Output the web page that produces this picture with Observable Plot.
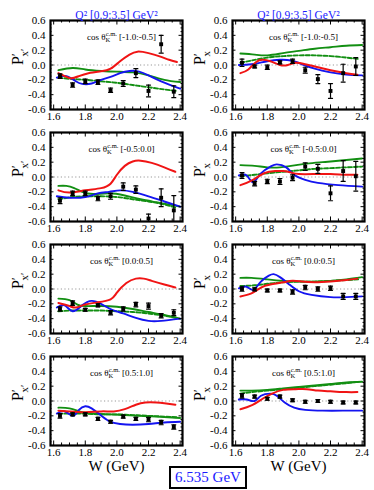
<!DOCTYPE html>
<html><head><meta charset="utf-8">
<script src="https://cdn.jsdelivr.net/npm/d3@7"></script>
<script src="https://cdn.jsdelivr.net/npm/@observablehq/plot@0.6"></script>
<style>
body{margin:0;background:#fff;}
#wrap{position:relative;width:374px;height:490px;}
#box{position:absolute;left:169px;top:466px;width:74px;height:19px;border:2px solid #000;font:15px "Liberation Serif",serif;color:#1a1aff;text-align:center;line-height:19px;background:#fff;}
</style></head><body>
<div id="wrap"><div id="box"></div></div>
<script>
const W = [1.64,1.72,1.80,1.88,1.96,2.04,2.12,2.20,2.28,2.36];
const cosBins = ["[-1.0:-0.5]","[-0.5:0.0]","[0.0:0.5]","[0.5:1.0]"];
const yLabels = ["P′x′","P′x"];
const qTitle = "Q² [0.9:3.5] GeV²";
const xLabel = "W (GeV)";
const beamLabel = "6.535 GeV";
const xTicks = [1.6,1.8,2.0,2.2,2.4];
const yTicks = [-0.6,-0.4,-0.2,0,0.2,0.4,0.6];

const pLeft = [
  [-0.15,-0.27,-0.22,-0.23,-0.34,-0.25,-0.11,-0.35,0.28,-0.36],
  [-0.32,-0.22,-0.22,-0.29,-0.26,-0.13,-0.17,-0.56,-0.28,-0.45],
  [-0.27,-0.19,-0.28,-0.22,-0.32,-0.27,-0.21,-0.23,-0.36,-0.32],
  [-0.20,-0.18,-0.18,-0.24,-0.28,-0.21,-0.24,-0.25,-0.29,-0.35]];
const eLeft = [
  [0.03,0.03,0.03,0.03,0.03,0.04,0.06,0.08,0.12,0.08],
  [0.04,0.03,0.03,0.03,0.04,0.05,0.05,0.06,0.12,0.20],
  [0.03,0.03,0.02,0.02,0.03,0.03,0.03,0.04,0.03,0.04],
  [0.03,0.02,0.02,0.02,0.02,0.02,0.02,0.03,0.03,0.03]];
const pRight = [
  [0.03,-0.02,-0.03,0.035,0.05,-0.07,-0.19,-0.35,-0.11,-0.02],
  [0.02,-0.09,-0.06,-0.06,-0.01,0.14,0.11,-0.22,0.08,0.01],
  [0.0,-0.005,-0.02,-0.02,-0.04,0.02,0.0,0.01,-0.10,-0.10],
  [0.07,0.06,0.03,0.06,0.01,-0.01,0.0,-0.01,-0.02,-0.02]];
const eRight = [
  [0.05,0.02,0.03,0.02,0.03,0.04,0.06,0.10,0.12,0.12],
  [0.04,0.03,0.03,0.04,0.04,0.05,0.06,0.10,0.14,0.20],
  [0.03,0.02,0.02,0.02,0.03,0.03,0.03,0.03,0.04,0.04],
  [0.03,0.02,0.02,0.02,0.02,0.02,0.02,0.02,0.02,0.02]];

const redLeft = [
  [[1.63,-0.11],[1.67,-0.15],[1.71,-0.18],[1.76,-0.15],[1.82,-0.11],[1.9,-0.085],[1.96,-0.05],[2.02,0.05],[2.08,0.14],[2.13,0.18],[2.2,0.16],[2.28,0.11],[2.33,0.07],[2.38,0.04]],
  [[1.63,-0.18],[1.7,-0.21],[1.8,-0.18],[1.9,-0.15],[1.96,-0.09],[2.0,0.03],[2.05,0.15],[2.1,0.21],[2.15,0.22],[2.22,0.19],[2.3,0.13],[2.37,0.07]],
  [[1.63,-0.19],[1.7,-0.23],[1.74,-0.25],[1.8,-0.21],[1.88,-0.18],[1.96,-0.14],[2.0,-0.05],[2.06,0.08],[2.12,0.14],[2.17,0.14],[2.22,0.11],[2.3,0.06],[2.37,0.02]],
  [[1.63,-0.13],[1.7,-0.14],[1.8,-0.15],[1.9,-0.14],[1.98,-0.14],[2.05,-0.11],[2.12,-0.05],[2.18,-0.02],[2.25,-0.02],[2.3,-0.03],[2.37,-0.05]]];
const greenLeft = [
  [[1.63,-0.07],[1.72,-0.04],[1.8,-0.06],[1.9,-0.08],[2.0,-0.09],[2.1,-0.1],[2.2,-0.14],[2.3,-0.2],[2.4,-0.23]],
  [[1.63,-0.12],[1.68,-0.12],[1.73,-0.15],[1.78,-0.2],[1.85,-0.23],[1.95,-0.22],[2.05,-0.25],[2.15,-0.3],[2.25,-0.34],[2.35,-0.38],[2.4,-0.4]],
  [[1.63,-0.13],[1.7,-0.15],[1.75,-0.21],[1.8,-0.23],[1.9,-0.23],[2.0,-0.24],[2.1,-0.27],[2.2,-0.31],[2.3,-0.35],[2.4,-0.4]],
  [[1.63,-0.09],[1.7,-0.1],[1.78,-0.15],[1.85,-0.17],[1.95,-0.18],[2.05,-0.19],[2.15,-0.2],[2.25,-0.21],[2.4,-0.23]]];
const dashLeft = [
  [[1.63,-0.17],[1.72,-0.19],[1.8,-0.2],[1.9,-0.22],[2.0,-0.24],[2.1,-0.27],[2.2,-0.3],[2.3,-0.33],[2.38,-0.35]],
  [[1.63,-0.3],[1.72,-0.27],[1.8,-0.26],[1.9,-0.26],[2.0,-0.27],[2.1,-0.3],[2.2,-0.33],[2.3,-0.37],[2.38,-0.42]],
  [[1.63,-0.3],[1.72,-0.29],[1.8,-0.29],[1.9,-0.29],[2.0,-0.3],[2.1,-0.31],[2.2,-0.33],[2.3,-0.36],[2.38,-0.39]],
  [[1.63,-0.17],[1.72,-0.17],[1.8,-0.17],[1.9,-0.18],[2.0,-0.18],[2.1,-0.19],[2.2,-0.2],[2.3,-0.21],[2.38,-0.22]]];
const blueLeft = [
  [[1.62,-0.17],[1.68,-0.15],[1.74,-0.22],[1.78,-0.255],[1.84,-0.25],[1.9,-0.2],[1.96,-0.16],[2.02,-0.11],[2.08,-0.08],[2.14,-0.09],[2.2,-0.14],[2.28,-0.22],[2.4,-0.32]],
  [[1.62,-0.26],[1.7,-0.28],[1.8,-0.27],[1.88,-0.22],[1.95,-0.2],[2.02,-0.18],[2.1,-0.2],[2.2,-0.26],[2.3,-0.33],[2.4,-0.4]],
  [[1.62,-0.25],[1.67,-0.22],[1.72,-0.3],[1.78,-0.22],[1.84,-0.16],[1.9,-0.2],[1.96,-0.27],[2.04,-0.33],[2.12,-0.39],[2.2,-0.43],[2.28,-0.43],[2.4,-0.4]],
  [[1.62,-0.17],[1.67,-0.14],[1.72,-0.2],[1.76,-0.12],[1.8,-0.07],[1.84,-0.1],[1.89,-0.18],[1.95,-0.27],[2.02,-0.31],[2.1,-0.32],[2.2,-0.31],[2.3,-0.29],[2.4,-0.28]]];

const redRight = [
  [[1.63,-0.11],[1.68,-0.06],[1.73,0.04],[1.77,0.07],[1.82,0.05],[1.88,0.0],[1.93,0.0],[1.98,0.03],[2.04,0.01],[2.12,-0.03],[2.2,-0.07],[2.3,-0.11],[2.37,-0.13]],
  [[1.63,-0.11],[1.7,-0.05],[1.78,0.05],[1.85,0.08],[1.9,0.08],[1.95,0.06],[2.0,0.04],[2.1,0.04],[2.2,0.04],[2.3,0.03],[2.37,0.03]],
  [[1.63,-0.1],[1.7,-0.06],[1.76,0.02],[1.82,0.06],[1.9,0.09],[1.96,0.11],[2.02,0.1],[2.1,0.09],[2.2,0.1],[2.3,0.12],[2.37,0.14]],
  [[1.63,-0.11],[1.7,-0.06],[1.77,0.03],[1.83,0.1],[1.9,0.15],[1.98,0.16],[2.05,0.16],[2.12,0.14],[2.2,0.13],[2.3,0.12],[2.37,0.12]]];
const greenRight = [
  [[1.63,0.155],[1.72,0.14],[1.8,0.13],[1.9,0.16],[2.0,0.19],[2.1,0.22],[2.2,0.24],[2.3,0.26],[2.4,0.27]],
  [[1.63,0.16],[1.72,0.15],[1.8,0.13],[1.88,0.13],[1.95,0.15],[2.05,0.18],[2.15,0.2],[2.25,0.22],[2.4,0.25]],
  [[1.63,0.15],[1.7,0.15],[1.8,0.13],[1.9,0.11],[2.0,0.1],[2.1,0.1],[2.2,0.11],[2.3,0.13],[2.4,0.16]],
  [[1.63,0.14],[1.7,0.14],[1.8,0.15],[1.9,0.17],[2.0,0.19],[2.1,0.21],[2.2,0.23],[2.3,0.25],[2.4,0.26]]];
const dashRight = [
  [[1.63,0.03],[1.7,0.06],[1.8,0.1],[1.9,0.12],[2.0,0.13],[2.1,0.13],[2.2,0.12],[2.3,0.1],[2.38,0.08]],
  [[1.63,0.01],[1.72,0.03],[1.8,0.05],[1.9,0.07],[2.0,0.09],[2.1,0.11],[2.2,0.12],[2.3,0.13],[2.4,0.14]],
  [[1.63,0.04],[1.72,0.05],[1.8,0.07],[1.9,0.09],[2.0,0.1],[2.1,0.1],[2.2,0.11],[2.3,0.12],[2.38,0.13]],
  [[1.63,0.1],[1.7,0.12],[1.8,0.14],[1.9,0.16],[2.0,0.18],[2.1,0.2],[2.2,0.22],[2.3,0.24],[2.38,0.26]]];
const blueRight = [
  [[1.62,0.0],[1.7,0.01],[1.8,0.05],[1.88,0.07],[1.95,0.06],[2.02,0.01],[2.1,-0.05],[2.2,-0.1],[2.3,-0.13],[2.4,-0.14]],
  [[1.62,0.02],[1.67,0.02],[1.71,-0.07],[1.76,0.05],[1.82,0.14],[1.86,0.17],[1.92,0.13],[1.97,0.03],[2.04,-0.04],[2.12,-0.08],[2.25,-0.11],[2.4,-0.13]],
  [[1.62,0.01],[1.67,0.03],[1.71,-0.01],[1.76,0.1],[1.81,0.18],[1.84,0.2],[1.88,0.16],[1.94,0.06],[2.0,-0.03],[2.08,-0.08],[2.2,-0.11],[2.3,-0.11],[2.4,-0.1]],
  [[1.62,0.02],[1.67,0.02],[1.72,0.0],[1.76,0.07],[1.82,0.1],[1.86,0.07],[1.91,-0.02],[1.97,-0.09],[2.04,-0.12],[2.15,-0.13],[2.3,-0.13],[2.4,-0.13]]];

// ---- build tables ----
const points = [];
[[pLeft, eLeft], [pRight, eRight]].forEach(([P, E], c) =>
  P.forEach((vals, r) => vals.forEach((v, i) => points.push({col: c, row: r, W: W[i], P: v, e: E[r][i]}))));
const curves = [];
const models = {red: [redLeft, redRight], green: [greenLeft, greenRight], dash: [dashLeft, dashRight], blue: [blueLeft, blueRight]};
for (const [m, LR] of Object.entries(models))
  LR.forEach((panels, c) => panels.forEach((pts, r) => pts.forEach(([x, y]) => curves.push({model: m, col: c, row: r, W: x, P: y}))));
const panelsInfo = [];
for (let c = 0; c < 2; c++) for (let r = 0; r < 4; r++) panelsInfo.push({col: c, row: r, bin: cosBins[r], ylab: yLabels[c]});

const xMinor = d3.range(32, 49).map(k => k * 0.05).filter(v => !xTicks.some(t => Math.abs(t - v) < 1e-6));
const yMinor = d3.range(-12, 13).map(k => k * 0.05).filter(v => !yTicks.some(t => Math.abs(t - v) < 1e-6));

// layout
const width = 374, height = 490, mT = 19, mB = 45, mL = 49, mR = 9, padX = 0.273, padY = 0.208;
const bwX = (width - mL - mR) / (2 - padX) * (1 - padX);
const bwY = (height - mT - mB) / (4 - padY) * (1 - padY);

const capShape = {draw(ctx, l) { ctx.moveTo(-l / 2, 0); ctx.lineTo(l / 2, 0); }};
const font = "Liberation Serif";
const F = {fx: "col", fy: "row"};

function xTickMarks(vals, len) {
  return [
    Plot.ruleX(vals, {x: d => d, insetTop: bwY - len, stroke: "black", strokeWidth: 1}),
    Plot.ruleX(vals, {x: d => d, insetBottom: bwY - len, stroke: "black", strokeWidth: 1})
  ];
}
function yTickMarks(vals, len) {
  return [
    Plot.ruleY(vals, {y: d => d, insetRight: bwX - len, stroke: "black", strokeWidth: 1}),
    Plot.ruleY(vals, {y: d => d, insetLeft: bwX - len, stroke: "black", strokeWidth: 1})
  ];
}
const line = (m, opts) => Plot.line(curves.filter(d => d.model === m), {x: "W", y: "P", ...F, z: null, curve: "natural", strokeWidth: 1.9, clip: true, ...opts});

const chart = Plot.plot({
  width, height,
  marginTop: mT, marginBottom: mB, marginLeft: mL, marginRight: mR,
  style: {fontFamily: font, background: "white"},
  fx: {domain: [0, 1], padding: padX, axis: null},
  fy: {domain: [0, 1, 2, 3], padding: padY, axis: null},
  x: {domain: [1.58, 2.415], axis: null},
  y: {domain: [-0.6, 0.6], axis: null},
  marks: [
    Plot.ruleY([0], {stroke: "#999", strokeDasharray: "1.2,2.4", strokeWidth: 1}),
    line("dash", {stroke: "#128f12", strokeDasharray: "4,2"}),
    line("green", {stroke: "#128f12"}),
    line("blue", {stroke: "#1414f0"}),
    line("red", {stroke: "#f01414", strokeWidth: 2}),
    Plot.ruleX(points, {x: "W", y1: d => d.P - d.e, y2: d => d.P + d.e, ...F, stroke: "black", strokeWidth: 1.2, clip: true}),
    Plot.vector(points, {x: "W", y: d => d.P + d.e, ...F, length: 4, rotate: 0, shape: capShape, anchor: "start", stroke: "black", strokeWidth: 1.2, clip: true}),
    Plot.vector(points, {x: "W", y: d => d.P - d.e, ...F, length: 4, rotate: 0, shape: capShape, anchor: "start", stroke: "black", strokeWidth: 1.2, clip: true}),
    Plot.dot(points, {x: "W", y: "P", ...F, symbol: "square", r: 2.2, fill: "black", stroke: "none"}),
    ...xTickMarks(xTicks, 4.5), ...xTickMarks(xMinor, 2.5),
    ...yTickMarks(yTicks, 4.5), ...yTickMarks(yMinor, 2.5),
    Plot.frame({stroke: "black", strokeWidth: 2.2}),
    Plot.text(xTicks, {x: d => d, frameAnchor: "bottom", dy: 10, text: d => d.toFixed(1), fontSize: 11, fill: "black"}),
    Plot.text(yTicks, {y: d => d, frameAnchor: "left", dx: -5, textAnchor: "end", text: d => d.toFixed(1), fontSize: 11, fill: "black"}),
    Plot.text(panelsInfo, {...F, frameAnchor: "top", dy: 13, dx: 5, text: d => "cos θ " + d.bin, fontSize: 9, fill: "black", className: "costh"}),
    Plot.text(panelsInfo, {...F, frameAnchor: "left", dx: -33, rotate: -90, text: "ylab", fontSize: 16, fill: "black", className: "ylab"}),
    Plot.text(panelsInfo.filter(d => d.row === 0), {...F, frameAnchor: "top", dy: -10, text: () => qTitle, fontSize: 11.5, fill: "#1a1aff"}),
    Plot.text(panelsInfo.filter(d => d.row === 3), {...F, frameAnchor: "bottom", dy: 25, text: () => xLabel, fontSize: 15, fill: "black"})
  ]
});

const wrap = document.getElementById("wrap");
wrap.insertBefore(chart, wrap.firstChild);
document.getElementById("box").textContent = beamLabel;

// typeset sub/superscripts
const svgNS = "http://www.w3.org/2000/svg";
function ts(parent, txt, attrs) {
  const t = document.createElementNS(svgNS, "tspan");
  t.textContent = txt;
  for (const k in attrs) t.setAttribute(k, attrs[k]);
  parent.appendChild(t);
  return t;
}
chart.querySelectorAll(".costh text").forEach(t => {
  const bin = t.textContent.replace("cos θ ", "");
  t.textContent = "";
  ts(t, "cos θ", {});
  ts(t, "K", {"font-size": 6.5, dy: 2.5});
  ts(t, "c.m.", {"font-size": 6.5, dx: -4.5, dy: -6.5});
  ts(t, " " + bin, {dy: 4});
});
chart.querySelectorAll(".ylab text").forEach(t => {
  const s = t.textContent;
  t.textContent = "";
  ts(t, "P", {});
  ts(t, "′", {"font-size": 12, dy: -3});
  ts(t, s.endsWith("′") ? "x′" : "x", {"font-size": 11, dx: -3, dy: 8});
});
</script>
</body></html>
